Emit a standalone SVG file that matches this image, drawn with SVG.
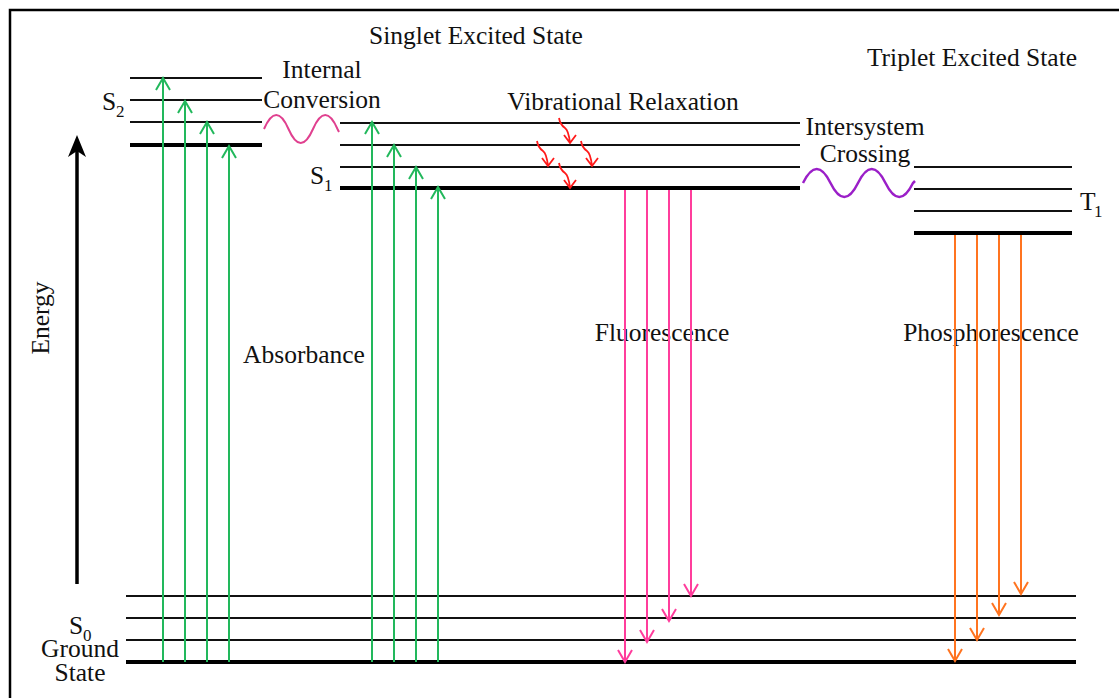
<svg xmlns="http://www.w3.org/2000/svg" width="1119" height="698" viewBox="0 0 1119 698">
<style>
text{font-family:"Liberation Serif","Times New Roman",serif;font-size:25.5px;fill:#111}
.sub{font-size:17px}
.thin{stroke:#111;stroke-width:2;fill:none}
.thick{stroke:#000;stroke-width:4;fill:none}
.g{stroke:#22b85c;stroke-width:2;fill:none}
.p{stroke:#ff3d9c;stroke-width:2;fill:none}
.o{stroke:#ff7420;stroke-width:2;fill:none}
.r{stroke:#ff1a1a;stroke-width:1.8;fill:none}
</style>
<defs>
<marker id="mg" markerUnits="userSpaceOnUse" markerWidth="30" markerHeight="30" refX="0" refY="0" viewBox="-15 -15 30 30" orient="auto"><path d="M-12,-7 L0,0 L-12,7" fill="none" stroke="#22b85c" stroke-width="2"/></marker>
<marker id="mp" markerUnits="userSpaceOnUse" markerWidth="30" markerHeight="30" refX="0" refY="0" viewBox="-15 -15 30 30" orient="auto"><path d="M-12,-7 L0,0 L-12,7" fill="none" stroke="#ff3d9c" stroke-width="2"/></marker>
<marker id="mo" markerUnits="userSpaceOnUse" markerWidth="30" markerHeight="30" refX="0" refY="0" viewBox="-15 -15 30 30" orient="auto"><path d="M-12,-7 L0,0 L-12,7" fill="none" stroke="#ff7420" stroke-width="2"/></marker>
</defs>
<rect width="1119" height="698" fill="#fff"/>
<path d="M10,698 V10 H1119" fill="none" stroke="#000" stroke-width="2.5"/>

<g id="energy-axis">
<line x1="77" y1="584" x2="77" y2="148" stroke="#000" stroke-width="3.5"/>
<path d="M77,135 L86,157 L77,151 L68,157 Z" fill="#000"/>
<text transform="translate(49,318) rotate(-90)" text-anchor="middle">Energy</text>
</g>

<g id="S2">
<line class="thin" x1="130" y1="78" x2="262" y2="78"/>
<line class="thin" x1="130" y1="100" x2="262" y2="100"/>
<line class="thin" x1="130" y1="122" x2="262" y2="122"/>
<line class="thick" x1="130" y1="145" x2="262" y2="145"/>
<text x="102" y="110">S</text><text class="sub" x="116" y="117">2</text>
</g>

<g id="S1">
<line class="thin" x1="340" y1="123" x2="800" y2="123"/>
<line class="thin" x1="340" y1="145" x2="800" y2="145"/>
<line class="thin" x1="340" y1="167" x2="800" y2="167"/>
<line class="thick" x1="340" y1="188" x2="800" y2="188"/>
<text x="310" y="184">S</text><text class="sub" x="324" y="191">1</text>
</g>

<g id="T1">
<line class="thin" x1="914" y1="167" x2="1072" y2="167"/>
<line class="thin" x1="914" y1="189" x2="1072" y2="189"/>
<line class="thin" x1="914" y1="211" x2="1072" y2="211"/>
<line class="thick" x1="914" y1="233" x2="1072" y2="233"/>
<text x="1080" y="210">T</text><text class="sub" x="1094" y="217">1</text>
</g>

<g id="S0">
<line class="thin" x1="126" y1="596" x2="1076" y2="596"/>
<line class="thin" x1="126" y1="618" x2="1076" y2="618"/>
<line class="thin" x1="126" y1="640" x2="1076" y2="640"/>
<line class="thick" x1="126" y1="662" x2="1076" y2="662"/>
<text x="69" y="634">S</text><text class="sub" x="83" y="641">0</text>
<text x="80" y="657" text-anchor="middle">Ground</text>
<text x="80" y="681" text-anchor="middle">State</text>
</g>

<g id="labels">
<text x="476" y="44" text-anchor="middle">Singlet Excited State</text>
<text x="972" y="66" text-anchor="middle">Triplet Excited State</text>
<text x="322" y="78" text-anchor="middle">Internal</text>
<text x="322" y="108" text-anchor="middle">Conversion</text>
<text x="623" y="110" text-anchor="middle">Vibrational Relaxation</text>
<text x="865" y="135" text-anchor="middle">Intersystem</text>
<text x="865" y="162" text-anchor="middle">Crossing</text>
<text x="304" y="363" text-anchor="middle">Absorbance</text>
<text x="662" y="341" text-anchor="middle">Fluorescence</text>
<text x="991" y="341" text-anchor="middle">Phosphorescence</text>
</g>

<g id="connectors">
<g id="absorbance">
<path class="g" d="M163,662 V78" marker-end="url(#mg)"/>
<path class="g" d="M185,662 V101" marker-end="url(#mg)"/>
<path class="g" d="M207,662 V122" marker-end="url(#mg)"/>
<path class="g" d="M229,662 V146" marker-end="url(#mg)"/>
<path class="g" d="M372,662 V122" marker-end="url(#mg)"/>
<path class="g" d="M394,662 V145" marker-end="url(#mg)"/>
<path class="g" d="M416,662 V167" marker-end="url(#mg)"/>
<path class="g" d="M438,662 V187" marker-end="url(#mg)"/>
</g>
<g id="fluorescence">
<path class="p" d="M625,190 V662" marker-end="url(#mp)"/>
<path class="p" d="M647,190 V642" marker-end="url(#mp)"/>
<path class="p" d="M669,190 V621" marker-end="url(#mp)"/>
<path class="p" d="M691,190 V596" marker-end="url(#mp)"/>
</g>
<g id="phosphorescence">
<path class="o" d="M955,235 V661" marker-end="url(#mo)"/>
<path class="o" d="M977,235 V640" marker-end="url(#mo)"/>
<path class="o" d="M999,235 V615" marker-end="url(#mo)"/>
<path class="o" d="M1021,235 V594" marker-end="url(#mo)"/>
</g>
<g id="internal-conversion">
<path d="M264,129 Q276.25,101 288.5,129 T313,129 T337.5,129 L339,132" fill="none" stroke="#e0408f" stroke-width="2"/>
</g>
<g id="intersystem-crossing">
<path d="M803,183 Q816.75,155 830.5,183 T858,183 T885.5,183 T913,183 L915,181" fill="none" stroke="#9b1fc8" stroke-width="2.5"/>
</g>
<g id="vibrational-relaxation">
<path class="r" d="M559,118 C560,124 562,126 565,128 C568,130 569,134 570,143 M564,135 L570,143 L576,135"/>
<path class="r" d="M537,141 C538,147 540,149 543,151 C546,153 547,157 548,166 M542,158 L548,166 L554,158"/>
<path class="r" d="M581,141 C582,147 584,149 587,151 C590,153 591,157 592,166 M586,158 L592,166 L598,158"/>
<path class="r" d="M559,163 C560,169 562,171 565,173 C568,175 569,179 570,188 M564,180 L570,188 L576,180"/>
</g>
</g>
</svg>
